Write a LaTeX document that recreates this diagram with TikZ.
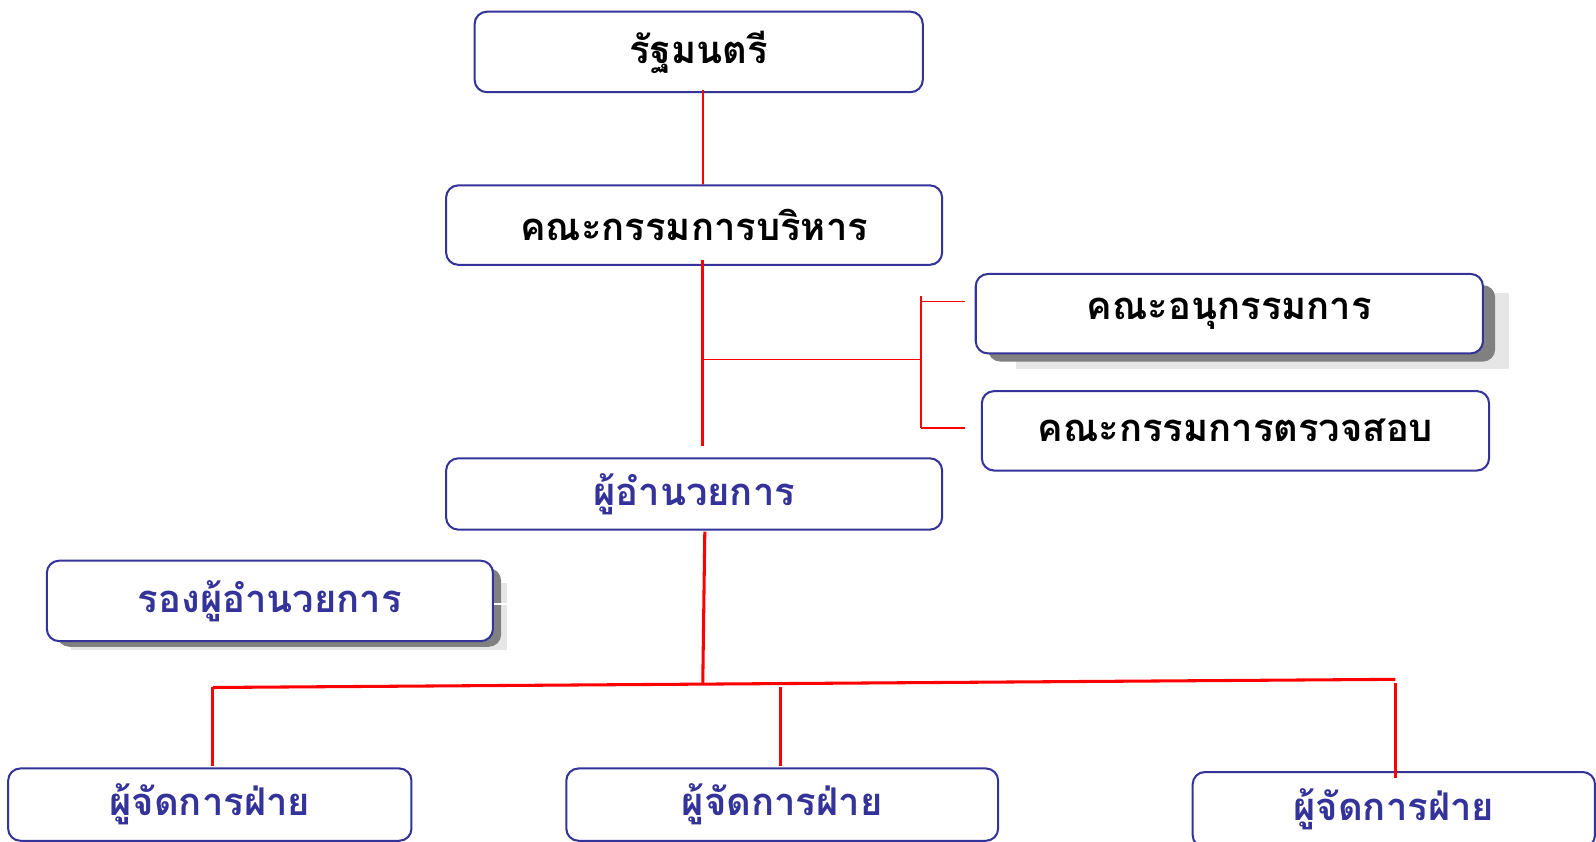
\documentclass[tikz,border=0pt]{standalone}
\usepackage{fontspec}
\newfontfamily\thaifont[Script=Thai]{Loma}
\definecolor{boxblue}{HTML}{333399}
\definecolor{shdark}{HTML}{808080}
\definecolor{shlight}{HTML}{E6E6E6}
\begin{document}
\begin{tikzpicture}[x=1pt,y=-1pt,
  box/.style={draw=boxblue,line width=2pt,rounded corners=12pt,fill=white,inner sep=0pt,
    font=\thaifont\fontsize{37.5}{44}\selectfont\bfseries},
  blk/.style={box,text=black},
  blu/.style={box,text=boxblue},
  thinred/.style={draw=red,line width=1.5pt},
  thickred/.style={draw=red,line width=3pt}]
% shadows
\fill[shlight] (998,288) rectangle (1482,362);
\fill[shdark,rounded corners=12pt] (970,280) rectangle (1468,355);
\fill[shlight] (70,572) rectangle (498,638);
\fill[shdark,rounded corners=12pt] (56,558) rectangle (492,635);
\draw[white,line width=2pt] (484,593) -- (500,593);
% boxes
\node[blk,minimum width=440pt,minimum height=79pt] (rm) at (686,51) {รัฐมนตรี};
\node[blk,minimum width=487pt,minimum height=78pt] (kb) at (681.5,221) {คณะกรรมการบริหาร};
\node[blk,minimum width=498pt,minimum height=78pt] (ka) at (1207,308) {คณะอนุกรรมการ};
\node[blk,minimum width=498pt,minimum height=78pt] (kt) at (1213,423) {คณะกรรมการตรวจสอบ};
\node[blu,minimum width=487pt,minimum height=70pt] (pa) at (681.5,485) {ผู้อำนวยการ};
\node[blu,minimum width=438pt,minimum height=79pt] (rp) at (265,590) {รองผู้อำนวยการ};
\node[blu,minimum width=396pt,minimum height=71pt] (m1) at (206,790) {ผู้จัดการฝ่าย};
\node[blu,minimum width=424pt,minimum height=71pt] (m2) at (768,790) {ผู้จัดการฝ่าย};
\node[blu,minimum width=395pt,minimum height=74pt] (m3) at (1368.5,795) {ผู้จัดการฝ่าย};
% connectors
\coordinate (j1) at (690,353);
\coordinate (b1) at (904,353);
\coordinate (bt) at (904,291);
\coordinate (bb) at (904,420);
\coordinate (bu) at (904,296);
\coordinate (hub) at (690,671);
\coordinate (hl) at (209,675);
\coordinate (hr) at (1370,667);
\coordinate (hm) at (766,675);
\coordinate (hn) at (1370,671);
\draw[thinred] (rm.south -| j1) ++(0,-3) -- (kb.north -| j1) -- ++(0,-9);
\draw[thickred] ([yshift=6pt]kb.south -| j1) -- ([yshift=11pt]pa.north -| j1);
\draw[thinred] (j1) -- (b1);
\draw[thinred] (bt) -- (bb);
\draw[thinred] (bu) -- ([xshift=-10pt]bu -| ka.west);
\draw[thinred] (bb) -- ([xshift=-16pt]bb -| kt.west);
\draw[thickred] ([xshift=10.5pt,yshift=-1pt]pa.south) -- (hub);
\draw[thickred] (hl) -- (hr);
\draw[thickred] (hl) -- ([yshift=1pt]m1.north -| hl);
\draw[thickred] (hm) -- ([yshift=1pt]m2.north -| hm);
\draw[thickred] (hn) -- ([yshift=-7pt]m3.north -| hn);
\pgfresetboundingbox
\path[use as bounding box] (0,0) rectangle (1567,826);
\end{tikzpicture}
\end{document}
